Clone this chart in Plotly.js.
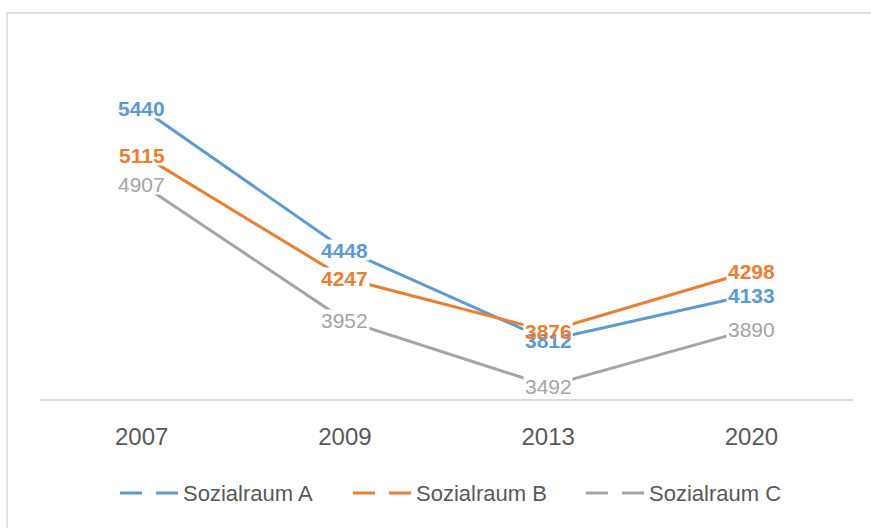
<!DOCTYPE html>
<html>
<head>
<meta charset="utf-8">
<script src="https://cdn.plot.ly/plotly-3.0.1.min.js"></script>
<style>html,body{margin:0;padding:0;background:#fff;}#chart{width:871px;height:528px;}</style>
</head>
<body>
<div id="chart"></div>
<script>
const years = ['2007', '2009', '2013', '2020'];
const seriesNames = ['Sozialraum A', 'Sozialraum B', 'Sozialraum C'];
const sozialraumA = [5440, 4448, 3812, 4133];
const sozialraumB = [5115, 4247, 3876, 4298];
const sozialraumC = [4907, 3952, 3492, 3890];
const colors = ['#5B9BD5', '#ED7D31', '#A5A5A5'];
const allSeries = [sozialraumA, sozialraumB, sozialraumC];

// plot-area geometry (pixels) used only to place the hand-drawn legend / frame
const W = 871, H = 528, ML = 40, MR = 18, MT = 57, MB = 129;
const PW = W - ML - MR, PH = H - MT - MB;
const px2x = p => (p - ML) / PW;
const py2y = p => (H - MB - p) / PH;

const traces = allSeries.map((vals, i) => ({
  type: 'scatter', mode: 'lines', x: years, y: vals, name: seriesNames[i],
  line: {color: colors[i], width: 3}, showlegend: false, hoverinfo: 'skip'
}));

const annotations = [];
// white blank masks behind every data label (hide the lines under the labels)
allSeries.forEach((vals, i) => {
  vals.forEach((v, j) => {
    annotations.push({
      x: j, y: v, xref: 'x', yref: 'y', text: ' ', showarrow: false,
      xanchor: 'center', yanchor: 'middle', width: 48, height: 20,
      bgcolor: '#ffffff', borderpad: 0, font: {size: 10, color: 'rgba(0,0,0,0)'}
    });
  });
});
// the data labels themselves
allSeries.forEach((vals, i) => {
  vals.forEach((v, j) => {
    annotations.push({
      x: j, y: v, xref: 'x', yref: 'y', text: String(v), showarrow: false,
      xanchor: 'center', yanchor: 'middle', height: 20, borderpad: 0,
      font: {family: 'Liberation Sans, Arial, sans-serif', size: 21, color: colors[i], weight: i === 2 ? 'normal' : 'bold'}
    });
  });
});

const shapes = [
  {type: 'line', xref: 'paper', yref: 'paper', x0: px2x(7), x1: px2x(900), y0: py2y(13), y1: py2y(13), line: {color: '#d4d4d4', width: 1.5}},
  {type: 'line', xref: 'paper', yref: 'paper', x0: px2x(7), x1: px2x(7), y0: py2y(13), y1: py2y(560), line: {color: '#d4d4d4', width: 1.5}}
];
const legY = py2y(493);
seriesNames.forEach((name, i) => {
  const x0 = 120 + i * 233;
  shapes.push({type: 'line', xref: 'paper', yref: 'paper', x0: px2x(x0), x1: px2x(x0 + 22), y0: legY, y1: legY, line: {color: colors[i], width: 3}});
  shapes.push({type: 'line', xref: 'paper', yref: 'paper', x0: px2x(x0 + 36), x1: px2x(x0 + 58), y0: legY, y1: legY, line: {color: colors[i], width: 3}});
  annotations.push({
    xref: 'paper', yref: 'paper', x: px2x(x0 + 61), y: legY, text: name, showarrow: false,
    xanchor: 'left', yanchor: 'middle',
    font: {family: 'Liberation Sans, Arial, sans-serif', size: 22, color: '#595959'}
  });
});

const layout = {
  width: W, height: H,
  margin: {l: ML, r: MR, t: MT, b: MB},
  paper_bgcolor: '#ffffff', plot_bgcolor: '#ffffff',
  showlegend: false,
  xaxis: {type: 'category', range: [-0.5, 3.5], showline: true, linecolor: '#d9d9d9', linewidth: 1.5,
    showgrid: false, zeroline: false, ticks: '', ticklabelstandoff: 16,
    tickfont: {family: 'Liberation Sans, Arial, sans-serif', size: 24, color: '#595959'}},
  yaxis: {range: [3400, 5800], visible: false, showgrid: false, zeroline: false},
  annotations: annotations,
  shapes: shapes
};

Plotly.newPlot('chart', traces, layout, {staticPlot: true, displayModeBar: false});
</script>
</body>
</html>
